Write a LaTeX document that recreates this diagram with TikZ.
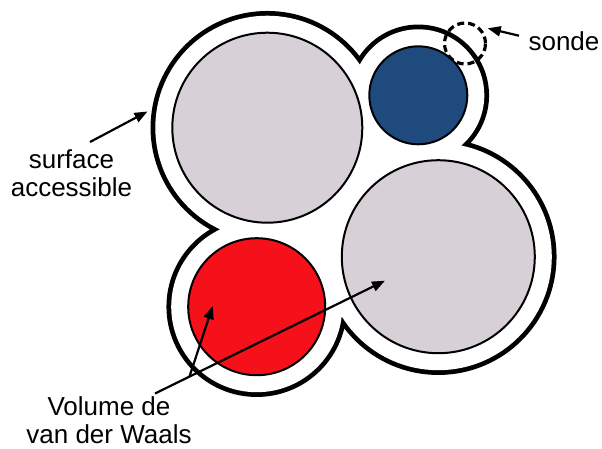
\documentclass[tikz,border=0pt]{standalone}
\usepackage{fontspec}
\setmainfont{Liberation Sans}
\usetikzlibrary{arrows.meta}
\definecolor{atomgrey}{RGB}{216,208,215}
\definecolor{atomblue}{RGB}{31,74,126}
\definecolor{atomred}{RGB}{245,16,26}
\begin{document}
\begin{tikzpicture}[x=1pt,y=-1pt,
  envline/.style={draw=black, line width=9.5pt},
  envfill/.style={fill=white},
  atom/.style={circle, draw=black, line width=2pt, inner sep=0pt, outer sep=0pt},
  probe/.style={circle, draw=black, line width=3.2pt, dash pattern=on 7pt off 4pt, inner sep=0pt, minimum size=41pt},
  lbl/.style={font=\fontsize{26}{29}\selectfont, anchor=base, inner sep=0pt},
  pointer/.style={draw=black, line width=2.2pt, -{Triangle[length=13pt,width=10pt]}}]
\useasboundingbox (0,0) rectangle (602,448);
% atom centres
\coordinate (cA) at (267.3,127.7);
\coordinate (cB) at (418.3,95.3);
\coordinate (cC) at (438.3,256.7);
\coordinate (cD) at (256.7,306.7);
% accessible surface (union of expanded spheres)
\path[envline] (cA) circle[radius=112pt] (cB) circle[radius=66pt] (cC) circle[radius=113.5pt] (cD) circle[radius=85.5pt];
\path[envfill] (cA) -- (cB) -- (cC) -- (cD) -- cycle;
\path[envfill] (cA) circle[radius=112pt] (cB) circle[radius=66pt] (cC) circle[radius=113.5pt] (cD) circle[radius=85.5pt];
% van der Waals spheres
\node[atom, fill=atomgrey, minimum size=190pt] (gA) at (cA) {};
\node[atom, fill=atomblue, minimum size=98pt] (bB) at (cB) {};
\node[atom, fill=atomgrey, minimum size=193pt] (gC) at (cC) {};
\node[atom, fill=atomred, minimum size=137pt] (rD) at (cD) {};
% probe
\node[probe] (pr) at (465,43.5) {};
% labels
\node[lbl] (sonde) at (564,50) {sonde};
\node[lbl] (surf1) at (71.5,168.3) {surface};
\node[lbl] (surf2) at (71.5,196.7) {accessible};
\node[lbl] (vol1) at (109,415) {Volume de};
\node[lbl] (vol2) at (109,443) {van der Waals};
% pointer ends
\coordinate (sT) at (519,35.7);
\coordinate (sH) at (487.7,28.3);
\coordinate (aT) at (90,142);
\coordinate (aH) at (147.5,111.5);
\coordinate (vT) at (155,393.5);
\coordinate (vM) at (189.5,376.5);
\coordinate (vH1) at (385,280.7);
\coordinate (vH2) at (212.7,306);
\draw[pointer] (sT) -- (sH);
\draw[pointer] (aT) -- (aH);
\draw[pointer] (vT) -- (vH1);
\draw[pointer] (vM) -- (vH2);
\end{tikzpicture}
\end{document}
